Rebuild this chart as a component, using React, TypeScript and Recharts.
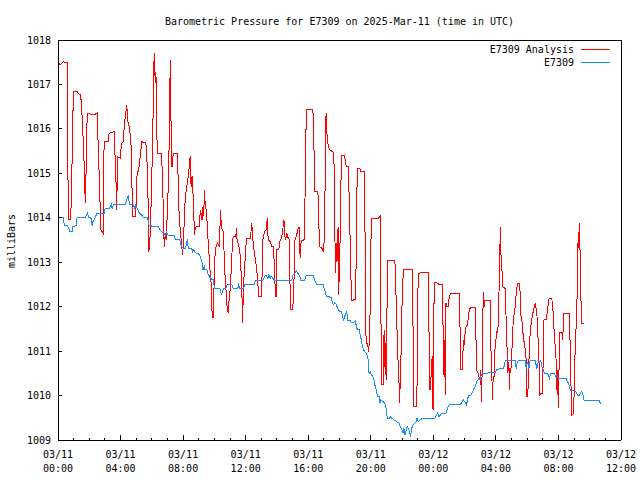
import { Legend, Line, LineChart, XAxis, YAxis } from 'recharts';

const FONT = '"DejaVu Sans Mono", "Liberation Mono", monospace';

// hours since 2025-03-11 00:00 UTC, pressure in mb
const analysisPoints: [number, number][] = [
  [0, 1017.51], [0.13, 1017.44], [0.34, 1017.51], [0.6, 1017.49], [0.62, 1015.75], [0.66, 1013.97],
  [0.81, 1013.97], [0.83, 1014.18], [0.92, 1015.56], [0.98, 1016.84], [1.24, 1016.84], [1.28, 1016.8],
  [1.45, 1016.76], [1.52, 1016.43], [1.6, 1015.83], [1.67, 1015.23], [1.71, 1014.63], [1.77, 1014.33],
  [1.82, 1015.83], [1.88, 1016.35], [2.31, 1016.31], [2.52, 1016.37], [2.54, 1015.94], [2.63, 1015.0],
  [2.74, 1013.73], [2.89, 1013.65], [2.91, 1014.7], [2.95, 1015.71], [3.21, 1015.71], [3.27, 1015.9],
  [3.59, 1015.94], [3.63, 1015.56], [3.72, 1014.7], [3.76, 1014.18], [3.8, 1015.38], [3.98, 1015.34],
  [4.02, 1015.53], [4.08, 1015.68], [4.19, 1015.71], [4.23, 1016.05], [4.34, 1016.39], [4.4, 1016.54],
  [4.45, 1016.2], [4.55, 1016.05], [4.66, 1015.75], [4.7, 1015.23], [4.77, 1014.03], [4.98, 1014.03],
  [5.0, 1014.48], [5.04, 1014.93], [5.19, 1015.15], [5.3, 1015.53], [5.36, 1015.71], [5.62, 1015.68],
  [5.68, 1015.41], [5.77, 1014.25], [5.81, 1013.24], [5.88, 1013.54], [5.94, 1014.14], [5.98, 1014.7],
  [6.05, 1015.68], [6.11, 1017.03], [6.15, 1017.7], [6.22, 1017.03], [6.26, 1017.29], [6.3, 1016.58],
  [6.32, 1015.83], [6.37, 1015.45], [6.62, 1015.45], [6.67, 1015.0], [6.73, 1014.25], [6.79, 1013.35],
  [6.86, 1013.65], [6.92, 1013.5], [6.97, 1013.95], [7.01, 1014.44], [7.07, 1014.7], [7.12, 1016.13],
  [7.18, 1017.55], [7.22, 1016.28], [7.29, 1015.15], [7.35, 1015.38], [7.39, 1015.45], [7.65, 1015.45],
  [7.69, 1014.7], [7.76, 1013.91], [7.82, 1013.73], [7.91, 1013.35], [7.97, 1013.16], [8.03, 1013.5],
  [8.08, 1014.03], [8.14, 1014.48], [8.21, 1014.63], [8.29, 1014.85], [8.36, 1015.0], [8.4, 1015.23],
  [8.46, 1015.38], [8.51, 1014.7], [8.57, 1014.93], [8.63, 1014.55], [8.68, 1014.18], [8.72, 1013.61],
  [8.76, 1013.73], [8.83, 1013.8], [9.04, 1013.8], [9.1, 1014.18], [9.15, 1014.1], [9.21, 1013.95],
  [9.25, 1014.25], [9.32, 1014.03], [9.36, 1014.63], [9.42, 1014.25], [9.49, 1014.18], [9.57, 1013.65],
  [9.64, 1013.28], [9.7, 1012.9], [9.79, 1012.53], [9.85, 1011.89], [9.92, 1011.74], [9.96, 1012.15],
  [10.0, 1012.83], [10.06, 1013.28], [10.13, 1013.39], [10.21, 1013.43], [10.32, 1013.35], [10.39, 1014.18],
  [10.43, 1013.91], [10.49, 1013.73], [10.56, 1013.69], [10.6, 1013.5], [10.64, 1012.9], [10.73, 1012.45],
  [10.81, 1012.0], [10.88, 1011.85], [10.94, 1012.15], [11.03, 1012.45], [11.11, 1013.13], [11.2, 1013.58],
  [11.37, 1013.58], [11.41, 1013.76], [11.45, 1013.5], [11.54, 1013.39], [11.62, 1013.28], [11.67, 1013.05],
  [11.75, 1012.45], [11.8, 1011.63], [11.86, 1012.45], [11.92, 1012.83], [11.99, 1013.2], [12.05, 1013.54],
  [12.31, 1013.54], [12.35, 1013.73], [12.39, 1013.88], [12.44, 1013.6], [12.5, 1013.35], [12.63, 1013.05],
  [12.71, 1012.83], [12.84, 1012.23], [13.01, 1012.23], [13.06, 1012.83], [13.1, 1013.5], [13.21, 1013.69],
  [13.31, 1013.73], [13.38, 1013.99], [13.44, 1013.5], [13.57, 1013.46], [13.68, 1013.35], [13.78, 1013.35],
  [13.85, 1012.75], [13.91, 1012.23], [13.95, 1012.23], [14.0, 1013.28], [14.12, 1013.28], [14.21, 1013.5],
  [14.3, 1013.54], [14.38, 1013.76], [14.45, 1013.95], [14.51, 1013.58], [14.55, 1013.5], [14.64, 1013.65],
  [14.72, 1013.54], [14.81, 1013.5], [14.85, 1011.93], [14.98, 1011.93], [15.06, 1012.15], [15.15, 1013.5],
  [15.24, 1013.58], [15.34, 1013.73], [15.41, 1013.8], [15.45, 1013.35], [15.49, 1013.09], [15.53, 1013.43],
  [15.6, 1013.5], [15.71, 1013.5], [15.77, 1013.53], [15.81, 1015.0], [15.88, 1016.43], [16.3, 1016.43],
  [16.37, 1015.53], [16.43, 1014.59], [16.62, 1014.59], [16.67, 1013.95], [16.73, 1013.35], [16.9, 1013.31],
  [16.95, 1013.24], [17.03, 1013.5], [17.09, 1015.0], [17.14, 1016.35], [17.18, 1016.05], [17.22, 1015.75],
  [17.29, 1015.6], [17.37, 1015.53], [17.63, 1015.47], [17.67, 1014.93], [17.71, 1013.5], [17.76, 1012.75],
  [17.8, 1013.43], [17.84, 1013.01], [17.91, 1013.8], [17.95, 1012.26], [18.01, 1013.13], [18.06, 1013.8],
  [18.1, 1014.93], [18.16, 1015.41], [18.29, 1015.41], [18.36, 1015.3], [18.44, 1015.15], [18.57, 1015.15],
  [18.62, 1014.4], [18.72, 1012.9], [18.76, 1012.15], [18.89, 1012.15], [19.02, 1012.17], [19.06, 1012.9],
  [19.1, 1014.4], [19.15, 1015.11], [19.3, 1015.11], [19.34, 1015.04], [19.57, 1015.04], [19.62, 1014.1],
  [19.7, 1011.18], [19.79, 1011.18], [19.87, 1010.99], [19.94, 1011.48], [20.0, 1013.24], [20.04, 1013.99],
  [20.47, 1013.99], [20.6, 1014.03], [20.64, 1012.38], [20.68, 1010.24], [20.81, 1010.24], [20.85, 1011.48],
  [20.9, 1010.65], [20.94, 1011.18], [20.98, 1010.35], [21.03, 1011.7], [21.07, 1013.01], [21.11, 1013.05],
  [21.54, 1013.05], [21.58, 1012.64], [21.65, 1011.85], [21.71, 1011.03], [21.8, 1010.35], [21.84, 1009.83],
  [21.88, 1010.28], [21.97, 1011.36], [22.01, 1012.3], [22.09, 1012.83], [22.65, 1012.83], [22.71, 1011.33],
  [22.76, 1009.75], [22.89, 1009.75], [22.95, 1009.83], [22.99, 1012.15], [23.06, 1012.75], [23.29, 1012.77],
  [23.68, 1012.77], [23.72, 1011.55], [23.76, 1010.13], [23.83, 1010.13], [23.87, 1010.65], [23.93, 1010.88],
  [23.98, 1009.68], [24.02, 1011.4], [24.06, 1012.54], [24.21, 1012.54], [24.42, 1012.49], [24.57, 1012.49],
  [24.59, 1012.08], [24.64, 1011.25], [24.68, 1010.46], [24.72, 1011.25], [24.76, 1010.01], [24.81, 1012.08],
  [24.85, 1012.0], [24.96, 1012.0], [25.02, 1012.23], [25.11, 1012.3], [25.66, 1012.3], [25.71, 1011.48],
  [25.75, 1010.59], [25.86, 1010.59], [25.92, 1011.25], [25.98, 1011.14], [26.03, 1011.4], [26.09, 1011.55],
  [26.18, 1011.59], [26.24, 1011.78], [26.3, 1011.93], [26.39, 1011.99], [26.67, 1011.99], [26.73, 1011.25],
  [26.77, 1010.58], [26.86, 1010.5], [26.9, 1010.43], [26.99, 1010.35], [27.03, 1010.58], [27.07, 1009.86],
  [27.12, 1010.5], [27.16, 1011.7], [27.2, 1012.32], [27.24, 1012.0], [27.31, 1012.15], [27.63, 1012.14],
  [27.67, 1011.18], [27.74, 1010.5], [27.78, 1009.9], [27.82, 1010.35], [27.88, 1010.43], [27.95, 1011.1],
  [28.06, 1011.44], [28.1, 1011.4], [28.16, 1011.63], [28.21, 1012.53], [28.25, 1013.2], [28.29, 1013.8],
  [28.33, 1013.13], [28.4, 1012.75], [28.44, 1012.45], [28.59, 1012.41], [28.7, 1011.25], [28.76, 1010.5],
  [28.83, 1010.76], [28.87, 1010.13], [28.91, 1010.58], [28.95, 1010.5], [29.02, 1010.95], [29.06, 1011.4],
  [29.12, 1011.7], [29.23, 1012.0], [29.3, 1012.3], [29.38, 1012.53], [29.51, 1012.53], [29.55, 1012.3],
  [29.59, 1011.81], [29.66, 1011.7], [29.77, 1011.25], [29.83, 1011.18], [29.94, 1010.8], [29.98, 1009.98],
  [30.04, 1009.98], [30.11, 1010.8], [30.15, 1010.95], [30.19, 1011.44], [30.26, 1011.63], [30.32, 1011.78],
  [30.41, 1011.93], [30.51, 1012.08], [30.62, 1011.85], [30.68, 1011.4], [30.75, 1010.88], [30.79, 1010.01],
  [30.9, 1010.05], [30.98, 1010.05], [31.03, 1010.88], [31.07, 1011.7], [31.22, 1011.72], [31.28, 1011.85],
  [31.35, 1012.08], [31.41, 1012.19], [31.58, 1012.17], [31.67, 1011.85], [31.73, 1011.4], [31.84, 1010.88],
  [31.88, 1010.43], [31.92, 1010.01], [31.97, 1010.58], [32.01, 1009.71], [32.05, 1011.03], [32.09, 1011.42],
  [32.22, 1011.42], [32.27, 1011.25], [32.31, 1011.55], [32.35, 1011.85], [32.69, 1011.85], [32.74, 1011.25],
  [32.78, 1010.5], [32.82, 1010.01], [32.86, 1009.56], [32.97, 1009.6], [33.03, 1010.43], [33.08, 1011.25],
  [33.16, 1011.7], [33.21, 1012.56], [33.25, 1013.43], [33.29, 1013.31], [33.33, 1013.88], [33.38, 1013.28],
  [33.44, 1012.15], [33.5, 1011.63], [33.65, 1011.63],
];

const stationPoints: [number, number][] = [
  [0, 1014.1], [0.04, 1014.01], [0.34, 1014.01], [0.41, 1013.82], [0.6, 1013.82], [0.68, 1013.76],
  [0.77, 1013.69], [0.9, 1013.69], [0.94, 1013.8], [1.15, 1013.82], [1.22, 1014.01], [1.75, 1014.01],
  [1.88, 1014.1], [1.97, 1014.01], [2.1, 1014.01], [2.18, 1013.82], [2.22, 1013.91], [2.31, 1013.95],
  [2.39, 1014.01], [2.48, 1014.1], [2.95, 1014.1], [3.01, 1014.21], [3.27, 1014.21], [3.33, 1014.25],
  [3.42, 1014.3], [3.46, 1014.21], [3.55, 1014.3], [4.3, 1014.3], [4.4, 1014.4], [4.49, 1014.51],
  [4.57, 1014.3], [4.79, 1014.3], [4.87, 1014.25], [4.92, 1014.21], [4.96, 1014.3], [5.0, 1014.25],
  [5.09, 1014.21], [5.17, 1014.12], [5.34, 1014.06], [5.47, 1014.01], [5.73, 1014.01], [5.83, 1013.82],
  [6.41, 1013.8], [6.52, 1013.73], [6.62, 1013.69], [6.79, 1013.65], [6.88, 1013.61], [6.94, 1013.67],
  [7.05, 1013.61], [7.44, 1013.6], [7.5, 1013.52], [7.76, 1013.52], [7.82, 1013.45], [7.91, 1013.35],
  [8.03, 1013.31], [8.16, 1013.31], [8.23, 1013.43], [8.27, 1013.52], [8.33, 1013.31], [8.55, 1013.31],
  [8.61, 1013.24], [8.68, 1013.29], [8.72, 1013.24], [8.85, 1013.2], [8.98, 1013.19], [9.1, 1013.13],
  [9.17, 1013.05], [9.23, 1012.98], [9.27, 1012.83], [9.36, 1012.9], [9.4, 1012.83], [9.53, 1012.83],
  [9.57, 1012.75], [9.64, 1012.71], [9.74, 1012.64], [9.83, 1012.62], [9.94, 1012.6], [10.0, 1012.41],
  [10.32, 1012.41], [10.39, 1012.38], [10.45, 1012.26], [10.51, 1012.34], [10.6, 1012.41], [10.73, 1012.41],
  [10.81, 1012.49], [11.11, 1012.5], [11.2, 1012.41], [11.5, 1012.41], [11.54, 1012.49], [11.62, 1012.41],
  [11.88, 1012.41], [11.92, 1012.49], [12.03, 1012.5], [12.56, 1012.5], [12.63, 1012.6], [13.1, 1012.6],
  [13.21, 1012.68], [13.31, 1012.71], [13.42, 1012.64], [13.48, 1012.71], [13.57, 1012.64], [13.63, 1012.69],
  [13.74, 1012.64], [13.83, 1012.6], [14.94, 1012.6], [15.02, 1012.71], [15.13, 1012.75], [15.24, 1012.81],
  [15.34, 1012.75], [15.45, 1012.69], [15.53, 1012.6], [15.77, 1012.6], [15.88, 1012.71], [16.3, 1012.71],
  [16.41, 1012.6], [16.52, 1012.51], [16.95, 1012.51], [16.99, 1012.44], [17.07, 1012.36], [17.16, 1012.23],
  [17.48, 1012.21], [17.54, 1012.08], [17.63, 1012.04], [17.71, 1012.09], [17.8, 1012.04], [17.91, 1011.94],
  [18.01, 1011.89], [18.12, 1011.89], [18.19, 1011.79], [18.27, 1011.7], [18.36, 1011.81], [18.4, 1011.85],
  [18.46, 1011.89], [18.53, 1011.7], [18.65, 1011.7], [18.72, 1011.66], [18.8, 1011.63], [18.93, 1011.66],
  [19.02, 1011.69], [19.06, 1011.59], [19.14, 1011.48], [19.27, 1011.48], [19.32, 1011.36], [19.4, 1011.25],
  [19.47, 1011.1], [19.53, 1011.03], [19.62, 1010.99], [19.7, 1010.95], [19.77, 1010.91], [19.83, 1010.8],
  [19.89, 1010.5], [19.96, 1010.54], [20.04, 1010.46], [20.13, 1010.43], [20.21, 1010.35], [20.26, 1010.24],
  [20.34, 1010.13], [20.43, 1009.99], [20.53, 1009.98], [20.58, 1009.83], [20.64, 1009.9], [20.79, 1009.86],
  [20.9, 1009.83], [21.0, 1009.68], [21.05, 1009.49], [21.18, 1009.49], [21.24, 1009.53], [21.32, 1009.49],
  [21.5, 1009.45], [21.67, 1009.41], [21.8, 1009.38], [21.88, 1009.3], [21.97, 1009.26], [22.05, 1009.15],
  [22.12, 1009.26], [22.18, 1009.11], [22.27, 1009.23], [22.33, 1009.3], [22.39, 1009.26], [22.48, 1009.19],
  [22.54, 1009.08], [22.61, 1009.26], [22.71, 1009.34], [22.82, 1009.38], [22.91, 1009.41], [22.95, 1009.49],
  [23.03, 1009.41], [23.16, 1009.45], [23.29, 1009.49], [24.1, 1009.49], [24.21, 1009.56], [24.27, 1009.6],
  [24.36, 1009.53], [24.44, 1009.56], [24.53, 1009.6], [24.81, 1009.6], [24.89, 1009.69], [25.02, 1009.81],
  [25.75, 1009.81], [25.83, 1009.86], [25.92, 1009.9], [26.05, 1009.84], [26.13, 1009.79], [26.18, 1009.9],
  [26.24, 1009.99], [26.39, 1010.01], [26.47, 1010.05], [26.56, 1010.13], [26.67, 1010.2], [26.77, 1010.31],
  [26.86, 1010.35], [26.92, 1010.39], [26.99, 1010.34], [27.03, 1010.43], [27.09, 1010.48], [27.2, 1010.5],
  [27.95, 1010.52], [28.06, 1010.59], [28.48, 1010.61], [28.55, 1010.69], [28.61, 1010.79], [29.23, 1010.79],
  [29.3, 1010.61], [29.38, 1010.76], [29.45, 1010.79], [29.87, 1010.79], [29.94, 1010.61], [30.02, 1010.76],
  [30.11, 1010.61], [30.19, 1010.79], [30.51, 1010.79], [30.62, 1010.61], [30.71, 1010.76], [30.77, 1010.74],
  [30.86, 1010.79], [30.94, 1010.65], [31.03, 1010.58], [31.11, 1010.5], [31.28, 1010.49], [31.37, 1010.46],
  [31.43, 1010.39], [31.5, 1010.49], [31.75, 1010.49], [31.84, 1010.43], [31.88, 1010.49], [31.92, 1010.41],
  [31.97, 1010.39], [32.52, 1010.39], [32.56, 1010.31], [32.65, 1010.28], [32.74, 1010.14], [32.82, 1010.11],
  [33.03, 1010.11], [33.12, 1010.09], [33.21, 1010.01], [33.33, 1010.01], [33.42, 1010.07], [33.5, 1010.09],
  [33.57, 1010.01], [33.63, 1009.9], [34.57, 1009.9], [34.64, 1009.86], [34.7, 1009.81],
];

const seriesNames = ['E7309 Analysis', 'E7309'];
const hourTicks = Array.from({ length: 37 }, (_, i) => i);
const xTickHours = [0, 4, 8, 12, 16, 20, 24, 28, 32, 36];
const xTickDates = ['03/11', '03/11', '03/11', '03/11', '03/11', '03/11', '03/12', '03/12', '03/12', '03/12'];
const xTickTimes = ['00:00', '04:00', '08:00', '12:00', '16:00', '20:00', '00:00', '04:00', '08:00', '12:00'];
const yTicks = [1009, 1010, 1011, 1012, 1013, 1014, 1015, 1016, 1017, 1018];

const analysisData = analysisPoints.map(([t, v]) => ({ t, v }));
const stationData = stationPoints.map(([t, v]) => ({ t, v }));

function BottomTick(props: any) {
  const { x, y, payload } = props;
  const i = xTickHours.indexOf(payload.value);
  return (
    <g>
      <line x1={x} x2={x} y1={y} y2={y - (i >= 0 ? 5 : 2)} stroke="#000" />
      {i >= 0 && (
        <text x={x} y={y} textAnchor="middle" fontFamily={FONT} fontSize={10} fill="#000">
          <tspan x={x} dy={17.5}>{xTickDates[i]}</tspan>
          <tspan x={x} dy={14}>{xTickTimes[i]}</tspan>
        </text>
      )}
    </g>
  );
}

function TopTick(props: any) {
  const { x, y, payload } = props;
  const major = xTickHours.includes(payload.value);
  return <line x1={x} x2={x} y1={y} y2={y + (major ? 5 : 2)} stroke="#000" />;
}

function LeftTick(props: any) {
  const { x, y, payload } = props;
  return (
    <g>
      <line x1={x} x2={x + 4} y1={y} y2={y} stroke="#000" />
      <text x={x - 7} y={y + 3.5} textAnchor="end" fontFamily={FONT} fontSize={10} fill="#000">
        {payload.value}
      </text>
    </g>
  );
}

function RightTick(props: any) {
  const { x, y } = props;
  return <line x1={x - 4} x2={x} y1={y} y2={y} stroke="#000" />;
}

function LegendBox(props: any) {
  const items = [...(props.payload ?? [])].sort(
    (a: any, b: any) => seriesNames.indexOf(a.value) - seriesNames.indexOf(b.value),
  );
  return (
    <div style={{ position: 'relative', width: 640, height: 26, fontFamily: FONT, fontSize: 10 }}>
      {items.map((item: any, i: number) => (
        <div key={item.value} style={{ position: 'absolute', top: i * 13, left: 0, width: 640, height: 13 }}>
          <span style={{ position: 'absolute', right: 66, top: 0, lineHeight: '13px', color: '#000' }}>
            {item.value}
          </span>
          <div style={{ position: 'absolute', left: 581, top: 6, width: 29, height: 1, background: item.color }} />
        </div>
      ))}
    </div>
  );
}

export default function App() {
  return (
    <div style={{ position: 'absolute', left: 0, top: 0, width: 640, height: 480, background: '#fff' }}>
      <style>{'.recharts-wrapper path, .recharts-wrapper line { shape-rendering: crispEdges; }'}</style>
      <LineChart width={640} height={480} margin={{ top: 0, right: 0, bottom: 0, left: 0 }}>
        <XAxis
          xAxisId="b"
          type="number"
          dataKey="t"
          domain={[0, 36]}
          ticks={hourTicks}
          interval={0}
          height={40}
          tickSize={0}
          tickMargin={0}
          tickLine={false}
          tick={<BottomTick />}
          stroke="#000"
        />
        <XAxis
          xAxisId="t"
          orientation="top"
          type="number"
          dataKey="t"
          domain={[0, 36]}
          ticks={hourTicks}
          interval={0}
          height={40}
          tickSize={0}
          tickMargin={0}
          tickLine={false}
          tick={<TopTick />}
          stroke="#000"
        />
        <YAxis
          yAxisId="l"
          type="number"
          domain={[1009, 1018]}
          ticks={yTicks}
          interval={0}
          width={58}
          tickSize={0}
          tickMargin={0}
          tickLine={false}
          tick={<LeftTick />}
          stroke="#000"
        />
        <YAxis
          yAxisId="r"
          orientation="right"
          type="number"
          domain={[1009, 1018]}
          ticks={yTicks}
          interval={0}
          width={19}
          tickSize={0}
          tickMargin={0}
          tickLine={false}
          tick={<RightTick />}
          stroke="#000"
        />
        <Line
          xAxisId="b"
          yAxisId="l"
          data={analysisData}
          dataKey="v"
          name={seriesNames[0]}
          type="linear"
          stroke="#ff0000"
          strokeWidth={1}
          dot={false}
          isAnimationActive={false}
        />
        <Line
          xAxisId="b"
          yAxisId="l"
          data={stationData}
          dataKey="v"
          name={seriesNames[1]}
          type="linear"
          stroke="#1a8cff"
          strokeWidth={1}
          dot={false}
          isAnimationActive={false}
        />
        <Legend
          layout="horizontal"
          verticalAlign="middle"
          align="center"
          content={<LegendBox />}
          wrapperStyle={{ top: 43, left: 0, width: 640 }}
        />
      </LineChart>
      <svg width={640} height={480} style={{ position: 'absolute', left: 0, top: 0, pointerEvents: 'none' }}>
        <text x={339.5} y={24.5} textAnchor="middle" fontFamily={FONT} fontSize={10} fill="#000">
          Barometric Pressure for E7309 on 2025-Mar-11 (time in UTC)
        </text>
        <text
          transform="translate(14.5, 241) rotate(-90)"
          textAnchor="middle"
          fontFamily={FONT}
          fontSize={10}
          fill="#000"
        >
          milliBars
        </text>
      </svg>
    </div>
  );
}
